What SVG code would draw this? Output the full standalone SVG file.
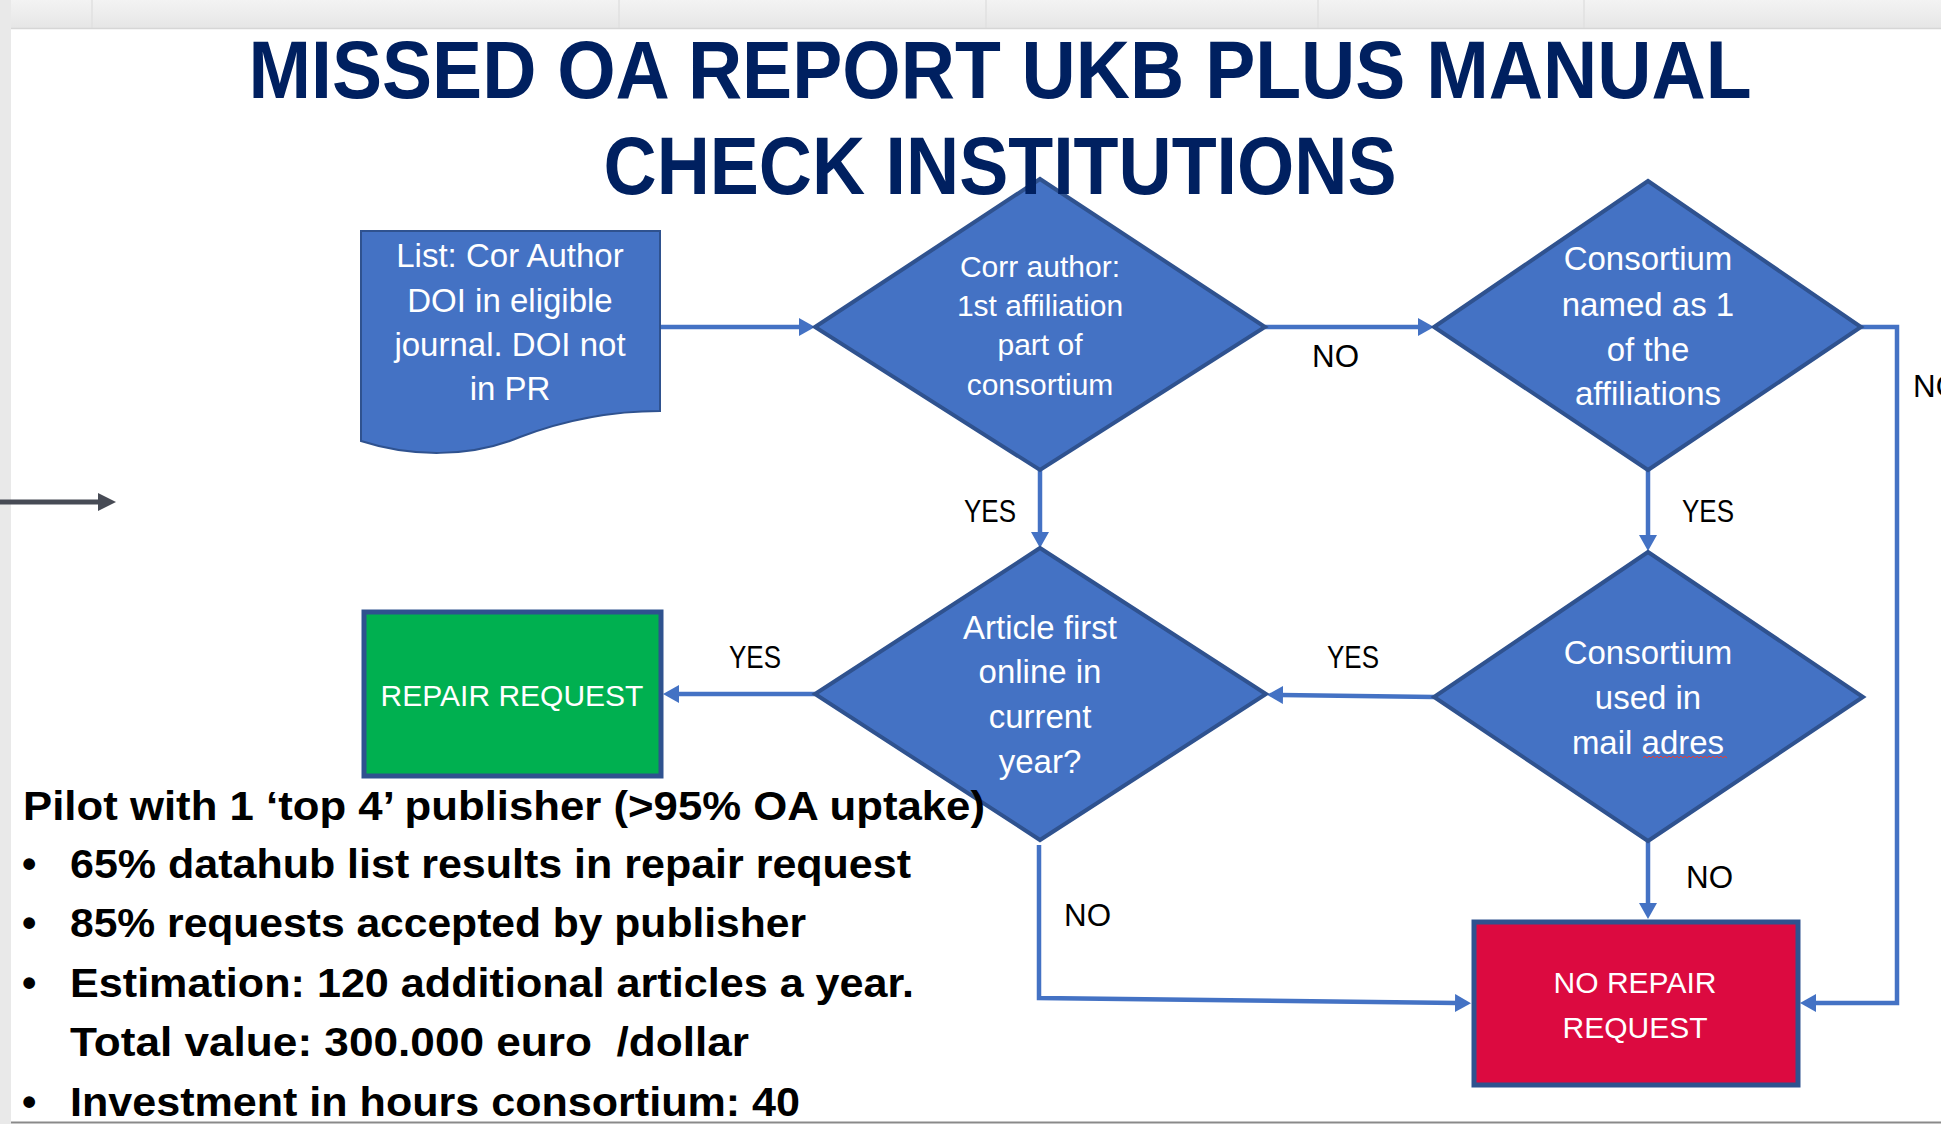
<svg xmlns="http://www.w3.org/2000/svg" width="1941" height="1124" viewBox="0 0 1941 1124">
<style>
.shape{fill:#4472C4;stroke:#2F528F;stroke-width:4;stroke-linejoin:miter}
.ntext{font-family:"Liberation Sans",Arial,sans-serif;fill:#FFFFFF;text-anchor:middle}
.lbl{font-family:"Liberation Sans",Arial,sans-serif;fill:#000000;font-size:31px}
.conn{fill:none;stroke:#4472C4;stroke-width:4.5}
.title{font-family:"Liberation Sans",Arial,sans-serif;font-weight:bold;fill:#002060;font-size:81px;text-anchor:middle}
.body{font-family:"Liberation Sans",Arial,sans-serif;font-weight:bold;fill:#000000;font-size:41px;white-space:pre}
</style>
<defs>
<marker id="ah" markerUnits="userSpaceOnUse" markerWidth="16" markerHeight="18" viewBox="0 0 16 18" refX="2" refY="9" orient="auto">
<path d="M0,0 L16,9 L0,18 z" fill="#4472C4"/>
</marker>
<marker id="ahg" markerUnits="userSpaceOnUse" markerWidth="18" markerHeight="18" viewBox="0 0 18 18" refX="2" refY="9" orient="auto">
<path d="M0,0 L18,9 L0,18 z" fill="#474B55"/>
</marker>
<linearGradient id="topg" x1="0" y1="0" x2="0" y2="1">
<stop offset="0" stop-color="#F3F3F3"/>
<stop offset="1" stop-color="#E6E6E6"/>
</linearGradient>
</defs>

<!-- background -->
<rect x="0" y="0" width="1941" height="1124" fill="#FFFFFF"/>
<rect x="0" y="0" width="1941" height="28" fill="url(#topg)"/>
<rect x="0" y="0" width="11" height="1124" fill="#E9E9E9"/>
<g stroke="#E0E0E0" stroke-width="1.5">
<line x1="92" y1="0" x2="92" y2="28"/>
<line x1="619" y1="0" x2="619" y2="28"/>
<line x1="986" y1="0" x2="986" y2="28"/>
<line x1="1318" y1="0" x2="1318" y2="28"/>
<line x1="1584" y1="0" x2="1584" y2="28"/>
</g>
<line x1="11" y1="28.5" x2="1941" y2="28.5" stroke="#D6D6D6" stroke-width="1.5"/>
<line x1="11" y1="1122.5" x2="1941" y2="1122.5" stroke="#8A8A8A" stroke-width="2"/>

<!-- connectors -->
<g id="connectors">
<path class="conn" d="M660,327 H801" marker-end="url(#ah)"/>
<path class="conn" d="M1265,327 H1420" marker-end="url(#ah)"/>
<path class="conn" d="M1040,470 V534" marker-end="url(#ah)"/>
<path class="conn" d="M1648,470 V537" marker-end="url(#ah)"/>
<path class="conn" d="M1861,327 H1897 V1003 H1814" marker-end="url(#ah)"/>
<path class="conn" d="M1434,697 L1281,695" marker-end="url(#ah)"/>
<path class="conn" d="M815,694 H677" marker-end="url(#ah)"/>
<path class="conn" d="M1648,842 V905" marker-end="url(#ah)"/>
<path class="conn" d="M1039,845 V998 L1457,1003" marker-end="url(#ah)"/>
<path d="M0,502 H100" fill="none" stroke="#474B55" stroke-width="5" marker-end="url(#ahg)"/>
<text class="lbl" x="1312" y="367" textLength="47" lengthAdjust="spacingAndGlyphs">NO</text>
<text class="lbl" x="964" y="522" textLength="52" lengthAdjust="spacingAndGlyphs">YES</text>
<text class="lbl" x="1682" y="522" textLength="52" lengthAdjust="spacingAndGlyphs">YES</text>
<text class="lbl" x="1913" y="397" textLength="47" lengthAdjust="spacingAndGlyphs">NO</text>
<text class="lbl" x="1327" y="668" textLength="52" lengthAdjust="spacingAndGlyphs">YES</text>
<text class="lbl" x="729" y="668" textLength="52" lengthAdjust="spacingAndGlyphs">YES</text>
<text class="lbl" x="1686" y="888" textLength="47" lengthAdjust="spacingAndGlyphs">NO</text>
<text class="lbl" x="1064" y="926" textLength="47" lengthAdjust="spacingAndGlyphs">NO</text>
</g>

<!-- nodes -->
<g id="doc-list">
<path d="M361,231 H660 V411 C620,411 570,418 520,437 C470,458 410,457 361,441 Z" fill="#4472C4" stroke="#2F528F" stroke-width="2"/>
<text class="ntext" font-size="33" x="510" y="267">List: Cor Author</text>
<text class="ntext" font-size="33" x="510" y="312">DOI in eligible</text>
<text class="ntext" font-size="33" x="510" y="356">journal. DOI not</text>
<text class="ntext" font-size="33" x="510" y="400">in PR</text>
</g>

<g id="dec-corr-author">
<path class="shape" d="M1040,179 L1265,327 L1040,470 L815,327 Z"/>
<text class="ntext" font-size="30" x="1040" y="277">Corr author:</text>
<text class="ntext" font-size="30" x="1040" y="316">1st affiliation</text>
<text class="ntext" font-size="30" x="1040" y="355">part of</text>
<text class="ntext" font-size="30" x="1040" y="395">consortium</text>
</g>

<g id="dec-consortium-named">
<path class="shape" d="M1648,181 L1861,327 L1648,470 L1434,327 Z"/>
<text class="ntext" font-size="33" x="1648" y="270">Consortium</text>
<text class="ntext" font-size="33" x="1648" y="316">named as 1</text>
<text class="ntext" font-size="33" x="1648" y="361">of the</text>
<text class="ntext" font-size="33" x="1648" y="405">affiliations</text>
</g>

<g id="dec-article-first">
<path class="shape" d="M1040,548 L1266,694 L1040,840 L815,694 Z"/>
<text class="ntext" font-size="33" x="1040" y="639">Article first</text>
<text class="ntext" font-size="33" x="1040" y="683">online in</text>
<text class="ntext" font-size="33" x="1040" y="728">current</text>
<text class="ntext" font-size="33" x="1040" y="773">year?</text>
</g>

<g id="dec-consortium-mail">
<path class="shape" d="M1648,552 L1863,697 L1648,841 L1434,697 Z"/>
<text class="ntext" font-size="33" x="1648" y="664">Consortium</text>
<text class="ntext" font-size="33" x="1648" y="709">used in</text>
<text class="ntext" font-size="33" x="1648" y="754">mail adres</text>
<path d="M1643,758 l2,-2 l2,2 l2,-2 l2,2 l2,-2 l2,2 l2,-2 l2,2 l2,-2 l2,2 l2,-2 l2,2 l2,-2 l2,2 l2,-2 l2,2 l2,-2 l2,2 l2,-2 l2,2 l2,-2 l2,2 l2,-2 l2,2 l2,-2 l2,2 l2,-2 l2,2 l2,-2 l2,2 l2,-2 l2,2 l2,-2 l2,2 l2,-2 l2,2 l2,-2 l2,2 l2,-2 l2,2 l2,-2 l2,2" fill="none" stroke="#E04040" stroke-width="1"/>
</g>

<g id="repair-request">
<rect x="364" y="612" width="297" height="164" fill="#00B050" stroke="#2F528F" stroke-width="5"/>
<text class="ntext" font-size="30" x="512" y="706">REPAIR REQUEST</text>
</g>

<g id="no-repair-request">
<rect x="1474" y="922" width="324" height="163" fill="#DC0A40" stroke="#2F528F" stroke-width="5"/>
<text class="ntext" font-size="30" x="1635" y="993">NO REPAIR</text>
<text class="ntext" font-size="30" x="1635" y="1038">REQUEST</text>
</g>

<!-- title -->
<g id="title">
<text class="title" x="1000" y="98" textLength="1503" lengthAdjust="spacingAndGlyphs">MISSED OA REPORT UKB PLUS MANUAL</text>
<text class="title" x="1000" y="194" textLength="793" lengthAdjust="spacingAndGlyphs">CHECK INSTITUTIONS</text>
</g>

<!-- notes -->
<g id="notes">
<text class="body" x="23" y="820" textLength="962" lengthAdjust="spacingAndGlyphs">Pilot with 1 ‘top 4’ publisher (&gt;95% OA uptake)</text>
<text class="body" x="22" y="878">•</text>
<text class="body" x="70" y="878" textLength="841" lengthAdjust="spacingAndGlyphs">65% datahub list results in repair request</text>
<text class="body" x="22" y="937">•</text>
<text class="body" x="70" y="937" textLength="736" lengthAdjust="spacingAndGlyphs">85% requests accepted by publisher</text>
<text class="body" x="22" y="997">•</text>
<text class="body" x="70" y="997" textLength="844" lengthAdjust="spacingAndGlyphs">Estimation: 120 additional articles a year.</text>
<text class="body" x="70" y="1056" textLength="679" lengthAdjust="spacingAndGlyphs">Total value: 300.000 euro  /dollar</text>
<text class="body" x="22" y="1116">•</text>
<text class="body" x="70" y="1116" textLength="730" lengthAdjust="spacingAndGlyphs">Investment in hours consortium: 40</text>
</g>
</svg>
